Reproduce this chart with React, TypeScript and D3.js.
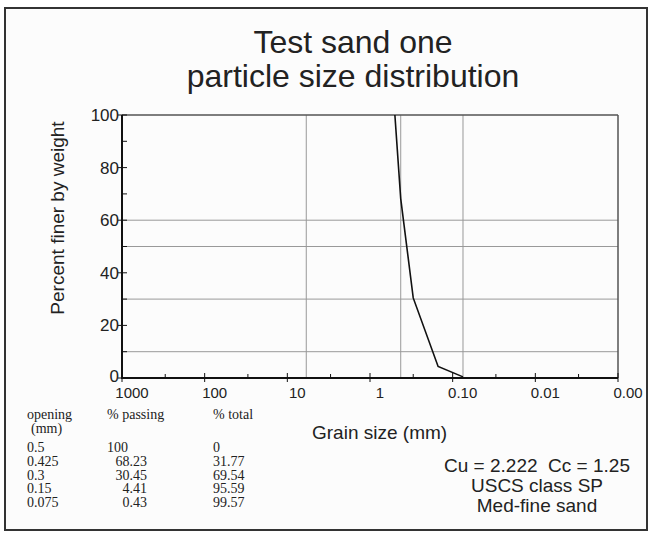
import React from 'react';
import * as d3 from 'd3';

// sieve results
const openings = [0.5, 0.425, 0.3, 0.15, 0.075];
const passing = [100, 68.23, 30.45, 4.41, 0.43];
const openingLabels = ['0.5', '0.425', '0.3', '0.15', '0.075'];
const passingLabels = ['100', '68.23', '30.45', '4.41', '0.43'];
const totalLabels = ['0', '31.77', '69.54', '95.59', '99.57'];

// axes
const xTickValues = [1000, 100, 10, 1, 0.1, 0.01, 0.001];
const xTickLabels = ['1000', '100', '10', '1', '0.10', '0.01', '0.00'];
const xMinorTicks = [300, 30, 3, 0.3, 0.03, 0.003];
const yTickValues = [0, 20, 40, 60, 80, 100];
const yMinorTicks = [10, 30, 50, 70, 90];
const yGridValues = [10, 30, 50, 60];
const xGridValues = [5.9, 0.425, 0.075];

const infoLines = ['Cu = 2.222  Cc = 1.25', 'USCS class SP', 'Med-fine sand'];

const W = 654;
const H = 538;
const sans = '"Liberation Sans", Arial, sans-serif';
const serif = '"Liberation Serif", "Times New Roman", serif';

export default function App() {
  const x = d3.scaleLog().domain([1000, 0.001]).range([122, 618]);
  const y = d3.scaleLinear().domain([0, 100]).range([378, 115]);

  const line = d3.line<number>()
    .x((_, i) => x(openings[i]))
    .y(d => y(d));

  const [x0, x1] = x.range();
  const [y0, y1] = y.range();

  const rowY = (i: number) => 452 + i * 13.8;

  return (
    <svg width={W} height={H} style={{ position: 'absolute', left: 0, top: 0, background: '#fff' }}>
      <rect x={5} y={8} width={642} height={522} fill="#fcfcfc" stroke="#333" strokeWidth={2} />

      {/* title */}
      <text x={353} y={53} textAnchor="middle" fontFamily={sans} fontSize={32} fill="#222">Test sand one</text>
      <text x={353} y={87} textAnchor="middle" fontFamily={sans} fontSize={32} fill="#222">particle size distribution</text>

      {/* grid */}
      {yGridValues.map(v => (
        <line key={'gy' + v} x1={x0} x2={x1} y1={y(v)} y2={y(v)} stroke="#999" strokeWidth={1} />
      ))}
      {xGridValues.map(v => (
        <line key={'gx' + v} x1={x(v)} x2={x(v)} y1={y1} y2={y0} stroke="#999" strokeWidth={1} />
      ))}

      {/* frame */}
      <line x1={x0} x2={x1} y1={y1} y2={y1} stroke="#555" strokeWidth={1.5} />
      <line x1={x1} x2={x1} y1={y1} y2={y0} stroke="#555" strokeWidth={1.5} />

      {/* curve */}
      <path d={line(passing) || ''} fill="none" stroke="#111" strokeWidth={1.6} />

      {/* y axis */}
      <line x1={x0} x2={x0} y1={y1} y2={y0 + 1} stroke="#111" strokeWidth={2} />
      {yTickValues.map(v => (
        <g key={'yt' + v}>
          <line x1={x0 - 4} x2={x0 + 5} y1={y(v)} y2={y(v)} stroke="#111" strokeWidth={1} />
          <text x={x0 - 3} y={y(v)} dy={v === 0 ? '0.25em' : '0.35em'} textAnchor="end" fontFamily={sans} fontSize={17} fill="#222">{v}</text>
        </g>
      ))}
      {yMinorTicks.map(v => (
        <line key={'ym' + v} x1={x0} x2={x0 + 5} y1={y(v)} y2={y(v)} stroke="#111" strokeWidth={1} />
      ))}

      {/* x axis */}
      <line x1={x0 - 1} x2={x1} y1={y0} y2={y0} stroke="#111" strokeWidth={2} />
      {xTickValues.map((v, i) => (
        <g key={'xt' + v}>
          <line x1={x(v)} x2={x(v)} y1={y0 - 5} y2={y0 + 4} stroke="#111" strokeWidth={1} />
          <text x={x(v) + 10} y={398} textAnchor="middle" fontFamily={sans} fontSize={15} fill="#222">{xTickLabels[i]}</text>
        </g>
      ))}
      {xMinorTicks.map(v => (
        <line key={'xm' + v} x1={x(v)} x2={x(v)} y1={y0 - 4} y2={y0} stroke="#111" strokeWidth={1} />
      ))}

      {/* axis titles */}
      <text transform="translate(64,218) rotate(-90)" textAnchor="middle" fontFamily={sans} fontSize={19} fill="#222">Percent finer by weight</text>
      <text x={312} y={439} fontFamily={sans} fontSize={19} fill="#222">Grain size (mm)</text>

      {/* classification */}
      {infoLines.map((t, i) => (
        <text key={t} x={537} y={472 + i * 20} textAnchor="middle" fontFamily={sans} fontSize={19} fill="#222" style={{ whiteSpace: 'pre' }}>{t}</text>
      ))}

      {/* table */}
      <g fontFamily={serif} fontSize={14} fill="#222">
        <text x={27} y={419}>opening</text>
        <text x={31} y={433}>(mm)</text>
        <text x={107} y={419}>% passing</text>
        <text x={213} y={419}>% total</text>
        {openingLabels.map((t, i) => (
          <g key={t}>
            <text x={27} y={rowY(i)}>{t}</text>
            {passingLabels[i].includes('.')
              ? <text x={147} y={rowY(i)} textAnchor="end">{passingLabels[i]}</text>
              : <text x={107} y={rowY(i)}>{passingLabels[i]}</text>}
            <text x={213} y={rowY(i)}>{totalLabels[i]}</text>
          </g>
        ))}
      </g>
    </svg>
  );
}
